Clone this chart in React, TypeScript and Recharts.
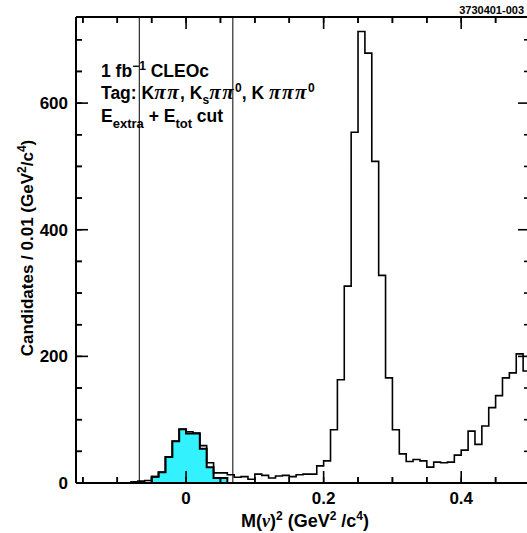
import React from "react";
import { ComposedChart, Area, Line, XAxis, YAxis, ReferenceLine } from "recharts";

// Histogram bins (left edges, GeV^2/c^4), width 0.01
const binStarts = [
  -0.08, -0.07, -0.06, -0.05, -0.04, -0.03, -0.02, -0.01, 0.0, 0.01,
  0.02, 0.03, 0.04, 0.05, 0.06, 0.07, 0.08, 0.09, 0.1, 0.11,
  0.12, 0.13, 0.14, 0.15, 0.16, 0.17, 0.18, 0.19, 0.2, 0.21,
  0.22, 0.23, 0.24, 0.25, 0.26, 0.27, 0.28, 0.29, 0.3, 0.31,
  0.32, 0.33, 0.34, 0.35, 0.36, 0.37, 0.38, 0.39, 0.4, 0.41,
  0.42, 0.43, 0.44, 0.45, 0.46, 0.47, 0.48, 0.49,
];
const binWidth = 0.01;

// All candidates (open histogram)
const totalCounts = [
  2, 3, 4, 10, 17, 41, 66, 85, 81, 79,
  59, 32, 16, 16, 13, 9, 10, 6, 14, 12,
  8, 11, 12, 10, 13, 14, 14, 27, 35, 84,
  163, 311, 554, 713, 679, 508, 328, 166, 84, 46,
  34, 37, 35, 25, 33, 32, 33, 44, 52, 82,
  61, 90, 119, 138, 166, 174, 204, 177,
];

// Signal (cyan filled histogram)
const cyanCounts = [
  0, 0, 0, 10, 17, 41, 66, 85, 78, 78,
  54, 25, 8, 8, 0, 0, 0, 0, 0, 0,
  0, 0, 0, 0, 0, 0, 0, 0, 0, 0,
  0, 0, 0, 0, 0, 0, 0, 0, 0, 0,
  0, 0, 0, 0, 0, 0, 0, 0, 0, 0,
  0, 0, 0, 0, 0, 0, 0, 0,
];

const xTicks = [-0.15, -0.1, -0.05, 0, 0.05, 0.1, 0.15, 0.2, 0.25, 0.3, 0.35, 0.4, 0.45, 0.5];
const xMajorLabels: [number, string][] = [[0, "0"], [0.2, "0.2"], [0.4, "0.4"]];
const yTicks = [0, 50, 100, 150, 200, 250, 300, 350, 400, 450, 500, 550, 600, 650, 700];
const yMajorLabels: [number, string][] = [[0, "0"], [200, "200"], [400, "400"], [600, "600"]];
const cutLines = [-0.068, 0.068];
const X_DOMAIN: [number, number] = [-0.16, 0.5];
const Y_DOMAIN: [number, number] = [0, 736];

// plot geometry (used only for tick-mark lengths)
const PLOT_W = 454;
const PLOT_H = 466;
const xPerPx = (X_DOMAIN[1] - X_DOMAIN[0]) / PLOT_W;
const yPerPx = (Y_DOMAIN[1] - Y_DOMAIN[0]) / PLOT_H;
const MAJOR = 12;
const MINOR = 6;
const BASE_TICK = 6;

const rows: { x: number; total: number; cyan: number }[] = [];
rows.push({ x: binStarts[0], total: 0, cyan: 0 });
binStarts.forEach((b, i) => rows.push({ x: b, total: totalCounts[i], cyan: cyanCounts[i] }));
rows.push({
  x: Math.round((binStarts[binStarts.length - 1] + binWidth) * 100) / 100,
  total: totalCounts[totalCounts.length - 1],
  cyan: 0,
});

const FONT = "'Liberation Sans', Arial, Helvetica, sans-serif";
const SERIF = "'Liberation Serif', 'Times New Roman', serif";

const findLabel = (list: [number, string][], v: number) => {
  const hit = list.find(([k]) => Math.abs(k - v) < 1e-6);
  return hit ? hit[1] : null;
};

const BottomTick = (props: any) => {
  const { x, y, payload } = props;
  const label = findLabel(xMajorLabels, payload.value);
  if (label === null) return <g />;
  return (
    <text x={x} y={y + 21} textAnchor="middle" fontFamily={FONT} fontWeight="bold" fontSize={17} fill="#000">
      {label}
    </text>
  );
};

const LeftTick = (props: any) => {
  const { x, y, payload } = props;
  const label = findLabel(yMajorLabels, payload.value);
  if (label === null) return <g />;
  return (
    <text x={x - 8} y={y + 6} textAnchor="end" fontFamily={FONT} fontWeight="bold" fontSize={17} fill="#000">
      {label}
    </text>
  );
};

const EmptyTick = () => <g />;

const Pi = () => (
  <tspan fontFamily={SERIF} fontStyle="italic" fontWeight="bold" fontSize={21} letterSpacing={1.5}>π</tspan>
);

const tickMarks = () => {
  const out: React.ReactNode[] = [];
  xTicks.forEach((v, i) => {
    const len = (findLabel(xMajorLabels, v) !== null ? MAJOR : MINOR) * yPerPx;
    out.push(
      <ReferenceLine key={`xb${i}`} xAxisId="b" yAxisId="l" ifOverflow="visible"
        segment={[{ x: v, y: Y_DOMAIN[0] }, { x: v, y: Y_DOMAIN[0] + len }]} stroke="#000" strokeWidth={1.6} />
    );
    out.push(
      <ReferenceLine key={`xt${i}`} xAxisId="b" yAxisId="l" ifOverflow="visible"
        segment={[{ x: v, y: Y_DOMAIN[1] }, { x: v, y: Y_DOMAIN[1] - len }]} stroke="#000" strokeWidth={1.6} />
    );
  });
  yTicks.forEach((v, i) => {
    const len = (findLabel(yMajorLabels, v) !== null ? MAJOR : MINOR) * xPerPx;
    out.push(
      <ReferenceLine key={`yl${i}`} xAxisId="b" yAxisId="l" ifOverflow="visible"
        segment={[{ x: X_DOMAIN[0], y: v }, { x: X_DOMAIN[0] + len, y: v }]} stroke="#000" strokeWidth={1.6} />
    );
    out.push(
      <ReferenceLine key={`yr${i}`} xAxisId="b" yAxisId="l" ifOverflow="visible"
        segment={[{ x: X_DOMAIN[1], y: v }, { x: X_DOMAIN[1] - len, y: v }]} stroke="#000" strokeWidth={1.6} />
    );
  });
  return out;
};

const tickLineStyle = { stroke: "#000", strokeWidth: 1.5 };

export default function App() {
  return (
    <div style={{ position: "absolute", left: 0, top: 0, width: 527, height: 533, overflow: "hidden", background: "#fff" }}>
      <ComposedChart
        width={540}
        height={533}
        data={rows}
        margin={{ top: 16, right: 0, bottom: 0, left: 0 }}
      >
        <XAxis
          xAxisId="b"
          type="number"
          dataKey="x"
          domain={X_DOMAIN}
          ticks={xTicks}
          interval={0}
          tickLine={tickLineStyle}
          tickSize={-BASE_TICK}
          tickMargin={BASE_TICK}
          tick={BottomTick}
          axisLine={{ stroke: "#000", strokeWidth: 2 }}
          height={50}
        />
        <XAxis
          xAxisId="t"
          orientation="top"
          type="number"
          dataKey="x"
          domain={X_DOMAIN}
          ticks={xTicks}
          interval={0}
          tickLine={tickLineStyle}
          tickSize={-BASE_TICK}
          tick={EmptyTick}
          axisLine={{ stroke: "#000", strokeWidth: 2 }}
          height={1}
        />
        <YAxis
          yAxisId="l"
          type="number"
          domain={Y_DOMAIN}
          ticks={yTicks}
          interval={0}
          tickLine={tickLineStyle}
          tickSize={-BASE_TICK}
          tickMargin={BASE_TICK}
          tick={LeftTick}
          axisLine={{ stroke: "#000", strokeWidth: 2 }}
          width={76}
        />
        <YAxis
          yAxisId="r"
          orientation="right"
          type="number"
          domain={Y_DOMAIN}
          ticks={yTicks}
          interval={0}
          tickLine={tickLineStyle}
          tickSize={-BASE_TICK}
          tick={EmptyTick}
          axisLine={{ stroke: "#000", strokeWidth: 2 }}
          width={10}
        />
        <Area
          xAxisId="b"
          yAxisId="l"
          type="stepAfter"
          dataKey="cyan"
          fill="#33F2FE"
          fillOpacity={1}
          stroke="#000"
          strokeWidth={2}
          dot={false}
          activeDot={false}
          isAnimationActive={false}
        />
        <Line
          xAxisId="b"
          yAxisId="l"
          type="stepAfter"
          dataKey="total"
          stroke="#000"
          strokeWidth={1.6}
          dot={false}
          activeDot={false}
          isAnimationActive={false}
        />
        {cutLines.map((c) => (
          <ReferenceLine key={c} xAxisId="b" yAxisId="l" x={c} stroke="#000" strokeWidth={1} />
        ))}
        {tickMarks()}
      </ComposedChart>
      <svg
        width={527}
        height={533}
        style={{ position: "absolute", left: 0, top: 0, pointerEvents: "none" }}
      >
        <text x={524} y={14} textAnchor="end" fontFamily={FONT} fontWeight="bold" fontSize={11} fill="#000">
          3730401-003
        </text>
        <g fontFamily={FONT} fontWeight="bold" fontSize={17.5} fill="#000">
          <text x={101} y={77}>
            1 fb<tspan dy={-7} fontSize={12}>−1</tspan>
            <tspan dy={7}> CLEOc</tspan>
          </text>
          <text x={101} y={99}>
            Tag: K<Pi /><Pi />, K<tspan dy={5} fontSize={12}>s</tspan>
            <tspan dy={-5}><Pi /><Pi /></tspan>
            <tspan dy={-7} fontSize={12}>0</tspan>
            <tspan dy={7}>, K </tspan>
            <Pi /><Pi /><Pi />
            <tspan dy={-7} fontSize={12}>0</tspan>
          </text>
          <text x={101} y={122}>
            E<tspan dy={6} fontSize={13}>extra</tspan>
            <tspan dy={-6}> + E</tspan>
            <tspan dy={6} fontSize={13}>tot</tspan>
            <tspan dy={-6}> cut</tspan>
          </text>
        </g>
        <text
          transform="translate(33,248) rotate(-90)"
          textAnchor="middle"
          fontFamily={FONT}
          fontWeight="bold"
          fontSize={17}
          fill="#000"
        >
          Candidates / 0.01 (GeV<tspan dy={-7} fontSize={12}>2</tspan>
          <tspan dy={7}>/c</tspan>
          <tspan dy={-7} fontSize={12}>4</tspan>
          <tspan dy={7}>)</tspan>
        </text>
        <text x={305} y={527} textAnchor="middle" fontFamily={FONT} fontWeight="bold" fontSize={18} fill="#000">
          M(<tspan fontFamily={SERIF} fontStyle="italic">ν</tspan>)
          <tspan dy={-7} fontSize={12}>2</tspan>
          <tspan dy={7}> (GeV</tspan>
          <tspan dy={-7} fontSize={12}>2</tspan>
          <tspan dy={7}> /c</tspan>
          <tspan dy={-7} fontSize={12}>4</tspan>
          <tspan dy={7}>)</tspan>
        </text>
      </svg>
    </div>
  );
}
